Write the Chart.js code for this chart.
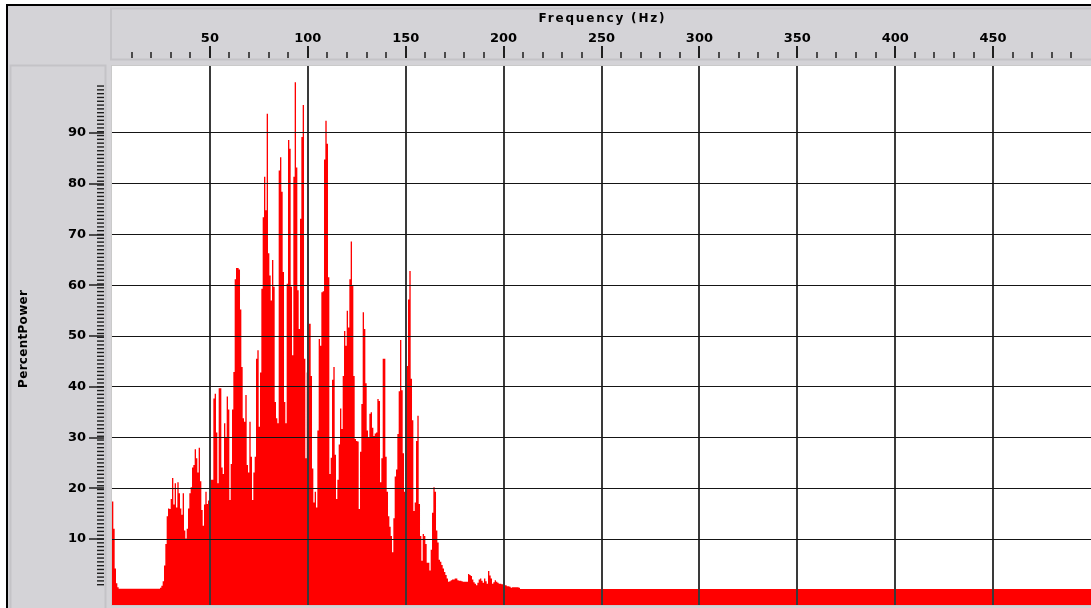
<!DOCTYPE html>
<html>
<head>
<meta charset="utf-8">
<title>PercentPower spectrum</title>
<script src="https://cdn.jsdelivr.net/npm/chart.js@4.4.1/dist/chart.umd.min.js"></script>
<style>
  html, body { margin: 0; padding: 0; background: #ffffff; }
  canvas { display: block; }
</style>
</head>
<body>
<canvas id="spectrum" width="1091" height="608"></canvas>
<script>
// Width of one frequency bin, in Hz
const binHz = 0.681;

// PercentPower for each bin, starting at 0 Hz
const power = [
  17.4, 12, 4.2, 1.3, 0.5, 0.2,
  0.2, 0.2, 0.2, 0.2, 0.2, 0.2, 0.2, 0.2, 0.2, 0.2,
  0.2, 0.2, 0.2, 0.2, 0.2, 0.2, 0.2, 0.2, 0.2, 0.2,
  0.2, 0.2, 0.2, 0.2, 0.2, 0.2, 0.2, 0.2, 0.2, 0.2,
  0.4, 0.8, 1.7, 4.8, 9, 14.5, 16, 15.9, 17.9,
  22, 16.8, 21, 16.2, 21.2, 19, 16, 14.8, 19, 11.7,
  10.1, 12, 16, 19, 20.2, 24.1, 24.6, 27.7, 25.9, 23.1,
  28, 21.4, 15.7, 12.6, 16.8, 19.3, 16.9, 17.6, 21.7, 21.7,
  21.7,
  37.7, 38.6, 31, 21, 39.7, 39.7, 24.1, 22.8, 32.8, 30,
  38.1, 35.5, 17.7, 24.8, 35.5, 42.9, 61.2, 63.4, 63.4,
  63.1, 55.2, 43.9, 33.8, 33.1, 38.4, 24.6, 23.1, 33.1, 26.2,
  17.7, 23.1, 26.2, 45.5, 47.2, 32.1, 42.8, 59.3, 73.4, 81.4,
  74.8, 93.8, 66.3, 61.9, 57, 65, 59.7, 37, 33.8, 32.8,
  82.6, 85.2, 78.4, 62.6, 37, 32.8, 60.3, 88.6, 86.9, 59.7,
  46.2, 81.4, 100, 83.2, 59, 51.4, 73.1, 89.2, 95.5, 45.5,
  25.9, 42.8, 52.4,
  52.4, 42.1, 23.9, 17.2, 19.3, 16.2, 31.4, 49.4, 48.1, 58.6,
  58.8, 84.8, 92.4, 87.9, 61.6, 22.8, 26, 41.4, 43.9, 26.6,
  17.9, 21.7, 28.6, 35.7, 31.7, 42.1, 51, 48.1, 55, 51.7,
  61.2, 68.6, 60, 42.1, 29.7, 29.3, 29.2, 15.9, 27.2, 36.6,
  54.7, 51.4, 40.7, 31.4, 30.1, 34.7, 35, 31.9, 30.3, 30.8,
  31, 37.6, 37.2, 21.2, 25.9, 45.5, 45.5, 26.2, 19.3, 14.5,
  12.4, 10.6, 7.4, 14.1, 22.3, 23.7, 30.7, 39.1, 49.2, 39.3,
  26.9, 19.3, 21.4, 44.1, 57.2, 62.8, 41.6, 33.4, 15.5, 17.2,
  29.3, 34.3, 16.9, 10.6, 5.7, 11, 10.6, 9, 5.3, 5.3,
  3.8, 7.9, 15.2, 20.2, 19.3, 11.7, 9.3, 5.9,
  5.5, 4.9, 4.2, 3.5, 2.9, 2.2, 1.6, 1.7, 1.9, 2.0,
  2.0, 2.2, 2.2, 1.9, 1.8, 1.8, 1.7, 1.6, 1.6, 1.6,
  1.6, 3.1, 2.9, 2.7, 2.0, 1.5, 1.2, 0.9, 1.4, 2.0,
  2.2, 1.8, 1.4, 2.2, 1.7, 1.2, 3.7, 2.8, 2.2, 1.2,
  1.5, 1.9, 1.6, 1.4, 1.2, 1.2, 1.1, 1.1, 0.9, 0.9,
  0.7, 0.7, 0.6, 0.4, 0.5, 0.5, 0.5, 0.5, 0.5, 0.4,
  0.15
];

// Noise floor carried on to the end of the band
const tailHz = [500];
const tailPower = [0.15];

// Axis ranges and labelled ticks
const freqRange = [0, 500];
const powerRange = [-3, 103.2];
const freqTicks = [50, 100, 150, 200, 250, 300, 350, 400, 450];
const powerTicks = [10, 20, 30, 40, 50, 60, 70, 80, 90];
const freqMinorStep = 10;
const powerMinorStep = 0.75;

const xTitle = 'Frequency (Hz)';
const yTitle = 'PercentPower';

const points = power.map((v, i) => ({ x: i * binHz, y: v }))
  .concat(tailHz.map((f, i) => ({ x: f, y: tailPower[i] })));

const panelGray = '#d4d3d7';
const panelEdge = '#c4c3c7';
const tickFont = { family: '"DejaVu Sans", sans-serif', weight: 'bold', size: 13 };

function spacedText(ctx, text, width) {
  ctx.letterSpacing = '0px';
  const w = ctx.measureText(text).width;
  const sp = Math.max(0, (width - w) / text.length);
  ctx.letterSpacing = sp.toFixed(2) + 'px';
  return sp;
}

// Panels, frame, tick marks and axis titles around the plot
const panelPlugin = {
  id: 'panels',
  beforeDraw(chart) {
    const { ctx, width, height, chartArea: a } = chart;
    ctx.save();
    ctx.fillStyle = '#ffffff';
    ctx.fillRect(0, 0, width, height);
    ctx.fillStyle = panelGray;
    ctx.fillRect(8, 6, width - 8, height - 6);
    ctx.fillStyle = '#000000';
    ctx.fillRect(6, 4, width - 6, 2);
    ctx.fillRect(6, 4, 2, height - 4);

    ctx.strokeStyle = panelEdge;
    ctx.lineWidth = 2;
    ctx.strokeRect(a.left - 1, 8.5, width, a.top - 15);
    ctx.strokeRect(10.5, a.top - 0.5, a.left - 17, height);

    ctx.fillStyle = '#ffffff';
    ctx.fillRect(a.left, a.top, a.right - a.left, a.bottom - a.top);
    ctx.strokeStyle = '#cacaca';
    ctx.lineWidth = 1;
    ctx.strokeRect(a.left - 0.5, a.top - 0.5, a.right - a.left + 1, a.bottom - a.top + 1);
    ctx.restore();
  },
  afterDraw(chart) {
    const { ctx } = chart;
    const xs = chart.scales.x;
    const ys = chart.scales.y;
    ctx.save();
    ctx.fillStyle = '#1e1e1e';

    // frequency ticks
    for (let i = 1; i * freqMinorStep < xs.max; i++) {
      const f = i * freqMinorStep;
      const px = Math.round(xs.getPixelForValue(f));
      if (freqTicks.includes(f)) {
        ctx.fillRect(px - 1, 46, 2, 12);
      } else {
        ctx.fillRect(px - 0.75, 52, 1.5, 6);
      }
    }

    // power ticks
    for (let v = 1; v < 99.5; v += powerMinorStep) {
      const py = ys.getPixelForValue(v);
      ctx.fillRect(97, py - 0.7, 7, 1.4);
    }
    powerTicks.forEach(v => {
      const py = Math.round(ys.getPixelForValue(v));
      ctx.fillRect(89, py - 0.75, 15, 1.5);
    });

    // axis titles
    ctx.fillStyle = '#000000';
    ctx.textBaseline = 'middle';
    ctx.textAlign = 'center';
    ctx.font = 'bold 12px "DejaVu Sans", sans-serif';
    let sp = spacedText(ctx, xTitle, 128);
    ctx.fillText(xTitle, (xs.left + xs.right) / 2 + sp / 2, 19);

    ctx.translate(24, 339);
    ctx.rotate(-Math.PI / 2);
    sp = spacedText(ctx, yTitle, 98);
    ctx.fillText(yTitle, sp / 2, 0);
    ctx.letterSpacing = '0px';
    ctx.restore();
  }
};

new Chart(document.getElementById('spectrum'), {
  type: 'line',
  data: {
    datasets: [{
      data: points,
      stepped: true,
      fill: 'start',
      backgroundColor: '#ff0000',
      borderColor: 'rgba(255,0,0,0)',
      borderWidth: 0,
      pointRadius: 0,
      tension: 0
    }]
  },
  options: {
    responsive: false,
    devicePixelRatio: 1,
    animation: false,
    events: [],
    layout: { autoPadding: false, padding: { left: 0, top: 0, right: 0, bottom: 3 } },
    plugins: { legend: { display: false }, tooltip: { enabled: false } },
    scales: {
      x: {
        type: 'linear',
        position: 'top',
        min: freqRange[0],
        max: freqRange[1],
        afterBuildTicks: s => { s.ticks = freqTicks.map(v => ({ value: v })); },
        afterFit: s => { s.height = 66; s.paddingLeft = 0; s.paddingRight = 0; },
        grid: { z: 1, drawTicks: false, color: '#3a3a3a', lineWidth: 2 },
        border: { display: false },
        ticks: { padding: 20, font: tickFont, color: '#000000', maxRotation: 0, autoSkip: false }
      },
      y: {
        type: 'linear',
        position: 'left',
        min: powerRange[0],
        max: powerRange[1],
        afterBuildTicks: s => { s.ticks = powerTicks.map(v => ({ value: v })); },
        afterFit: s => { s.width = 112; s.paddingTop = 0; s.paddingBottom = 0; },
        grid: { z: 1, drawTicks: false, color: '#151515', lineWidth: 1 },
        border: { display: false },
        ticks: { padding: 26, font: tickFont, color: '#000000' }
      }
    }
  },
  plugins: [panelPlugin]
});
</script>
</body>
</html>
